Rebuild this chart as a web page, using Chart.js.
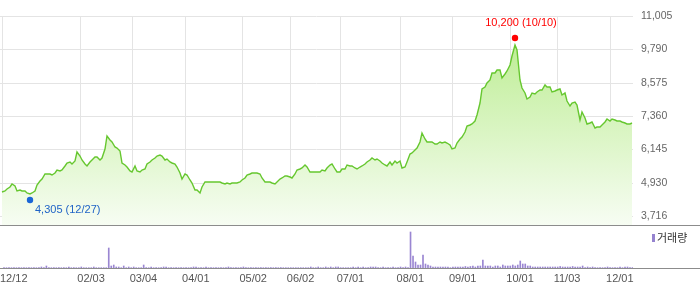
<!DOCTYPE html>
<html>
<head>
<meta charset="utf-8">
<script src="https://cdn.jsdelivr.net/npm/chart.js@4.4.0/dist/chart.umd.min.js"></script>
<style>
  body { margin: 0; background: #fff; }
  #wrap { width: 700px; height: 289px; }
  canvas { display: block; }
</style>
</head>
<body>
<div id="wrap">
  <canvas id="priceChart" width="700" height="226"></canvas>
  <canvas id="volChart" width="700" height="63"></canvas>
</div>
<script>
// daily closing prices, one per trading day from 12/12 to early Dec
let prices = [
  4585, 4640, 4705, 4775, 4865, 4800, 4605, 4650, 4640, 4605,
  4550, 4515, 4540, 4640, 4825, 4990, 5060, 5250, 5260, 5240,
  5210, 5270, 5380, 5340, 5400, 5520, 5660, 5670, 5610, 5730,
  6030, 5900, 5740, 5590, 5530, 5670, 5770, 5880, 5860, 5740,
  5830, 6170, 6640, 6500, 6410, 6220, 6180, 6070, 5660, 5580,
  5510, 5370, 5310, 5530, 5370, 5330, 5380, 5430, 5590, 5670,
  5740, 5810, 5890, 5950, 5910, 5750, 5780, 5690, 5660, 5590,
  5490, 5280, 5060, 5240, 5200, 5030, 4925, 4645, 4660, 4550,
  4765, 4950, 4960, 4950, 4945, 4960, 4935, 4935, 4925, 4880,
  4920, 4885, 4920, 4915, 4925, 4965, 5020, 5100, 5210, 5260,
  5290, 5270, 5280, 5240, 5090, 4965, 4945, 4945, 4915, 4865,
  4950, 5060, 5080, 5170, 5180, 5120, 5100, 5240, 5380, 5425,
  5450, 5570, 5500, 5330, 5310, 5310, 5320, 5330, 5380, 5340,
  5460, 5570, 5590, 5410, 5300, 5310, 5410, 5430, 5570, 5520,
  5520, 5470, 5440, 5480, 5530, 5610, 5680, 5750, 5830, 5750,
  5780, 5720, 5650, 5580, 5550, 5690, 5560, 5710, 5630, 5720,
  5470, 5510, 5680, 5980, 6010, 6100, 6200, 6410, 6750, 6510,
  6400, 6420, 6410, 6355, 6350, 6420, 6380, 6400, 6380, 6310,
  6140, 6190, 6370, 6520, 6610, 6770, 6980, 7040, 7070, 7180,
  7410, 7850, 8350, 8420, 8550, 8670, 8920, 8910, 9040, 9030,
  8740, 8900, 8990, 9200, 9550, 9950, 9780, 8670, 8390, 8190,
  7980, 8060, 8200, 8160, 8230, 8320, 8310, 8480, 8430, 8420,
  8250, 8280, 8300, 8350, 8120, 8200, 7890, 7740, 7820, 7880,
  7760, 7210, 7500, 7285, 7080, 7090, 7140, 6910, 6940, 6970,
  7040, 7130, 7260, 7160, 7250, 7220, 7190, 7180, 7150, 7120,
  7080, 7070, 7090
];

// daily volume (thousand shares)
let volumes = [
  30, 30, 30, 30, 30, 30, 30, 30, 30, 30,
  30, 30, 30, 30, 30, 100, 30, 200, 30, 30,
  30, 30, 30, 30, 30, 30, 100, 30, 30, 30,
  30, 100, 30, 30, 30, 30, 100, 30, 30, 30,
  30, 30, 2000, 200, 300, 100, 100, 30, 200, 30,
  100, 30, 100, 30, 30, 30, 300, 30, 30, 100,
  30, 30, 30, 30, 100, 100, 30, 30, 30, 30,
  30, 30, 30, 30, 30, 30, 100, 100, 30, 30,
  30, 100, 30, 30, 30, 30, 30, 30, 30, 30,
  100, 30, 30, 30, 30, 30, 100, 30, 30, 30,
  30, 30, 30, 30, 30, 30, 30, 30, 30, 30,
  30, 30, 30, 30, 30, 30, 30, 30, 30, 30,
  30, 30, 30, 100, 30, 30, 100, 30, 30, 100,
  30, 100, 30, 100, 100, 30, 30, 30, 30, 30,
  100, 30, 100, 30, 100, 30, 30, 100, 100, 100,
  30, 30, 100, 30, 30, 30, 100, 30, 30, 100,
  30, 100, 30, 3600, 1200, 600, 300, 300, 1300, 400,
  300, 200, 100, 100, 100, 100, 100, 100, 100, 30,
  100, 100, 100, 100, 100, 150, 100, 150, 200, 100,
  200, 200, 800, 200, 200, 200, 100, 200, 200, 100,
  300, 200, 200, 200, 300, 200, 300, 700, 400, 400,
  200, 200, 100, 100, 100, 100, 100, 100, 100, 100,
  100, 100, 100, 150, 100, 100, 100, 100, 150, 100,
  100, 100, 200, 30, 100, 30, 100, 30, 30, 30,
  30, 30, 100, 30, 30, 30, 30, 100, 30, 100,
  100, 30, 30
];

// x tick positions (trading day index) and their labels
let tickIdx = [0, 31, 52, 73, 96, 115, 135, 159, 180, 203, 222, 243];
let tickLabels = ['12/12', '02/03', '03/04', '04/01', '05/02', '06/02', '07/01', '08/01', '09/01', '10/01', '11/03', '12/01'];
let priceTicks = [3716, 4930, 6145, 7360, 8575, 9790, 11005];

let highPoint = { idx: 205, value: 10200, date: '10/10' };
let lowPoint = { idx: 11, value: 4305, date: '12/27' };

let xMin = -0.8, xMax = 252.2;
let fontName = "'Liberation Sans', Arial, sans-serif";
let gridColor = '#e4e4e4';

function fmt(n) {
  return n.toLocaleString('en-US');
}

function xTicks(scale) {
  scale.ticks = tickIdx.map(v => ({ value: v }));
}

// dark line across the whole width under each chart area
const baseLine = {
  id: 'baseLine',
  afterDraw(chart) {
    let ctx = chart.ctx;
    let y = Math.round(chart.chartArea.bottom) + 0.5;
    ctx.save();
    ctx.strokeStyle = '#8c8c8c';
    ctx.lineWidth = 1;
    ctx.beginPath();
    ctx.moveTo(0, y);
    ctx.lineTo(chart.width, y);
    ctx.stroke();
    ctx.restore();
  }
};

// high / low labels next to the dots
const peakLabels = {
  id: 'peakLabels',
  afterDatasetsDraw(chart) {
    let pts = chart.getDatasetMeta(1).data;
    let ctx = chart.ctx;
    ctx.save();
    ctx.font = '11px ' + fontName;
    ctx.textBaseline = 'middle';
    ctx.fillStyle = '#ff0000';
    ctx.textAlign = 'center';
    ctx.fillText(fmt(highPoint.value) + ' (' + highPoint.date + ')', pts[0].x + 6, pts[0].y - 15);
    ctx.fillStyle = '#1f63c6';
    ctx.textAlign = 'left';
    ctx.fillText(fmt(lowPoint.value) + ' (' + lowPoint.date + ')', pts[1].x + 5, pts[1].y + 10);
    ctx.restore();
  }
};

const volLegend = {
  id: 'volLegend',
  afterDraw(chart) {
    let ctx = chart.ctx;
    ctx.save();
    ctx.fillStyle = '#9583cf';
    ctx.fillRect(652, 8, 3, 8);
    ctx.fillStyle = '#333';
    ctx.font = "11px 'Noto Sans CJK KR', sans-serif";
    ctx.textBaseline = 'middle';
    ctx.textAlign = 'left';
    ctx.fillText('거래량', 657, 12);
    ctx.restore();
  }
};

let priceCtx = document.getElementById('priceChart').getContext('2d');

let priceChart = new Chart(priceCtx, {
  type: 'line',
  data: {
    datasets: [{
      order: 2,
      data: prices.map((v, i) => ({ x: i, y: v })),
      borderColor: '#66c72f',
      borderWidth: 1.4,
      pointRadius: 0,
      tension: 0,
      fill: 'start',
      backgroundColor: function (context) {
        let area = context.chart.chartArea;
        if (!area) return 'rgba(190,236,150,0.5)';
        let g = context.chart.ctx.createLinearGradient(0, area.top, 0, area.bottom);
        g.addColorStop(0, '#b6eb88');
        g.addColorStop(1, '#f7fdf3');
        return g;
      }
    }, {
      order: 1,
      data: [
        { x: highPoint.idx, y: highPoint.value },
        { x: lowPoint.idx, y: lowPoint.value }
      ],
      showLine: false,
      pointRadius: 3.2,
      pointBorderWidth: 0,
      pointBackgroundColor: ['#ff0000', '#1a66d6'],
      fill: false
    }]
  },
  options: {
    responsive: false,
    animation: false,
    layout: { autoPadding: false, padding: { top: 16, left: 0, right: 0, bottom: 0 } },
    plugins: {
      legend: { display: false },
      tooltip: { enabled: false }
    },
    scales: {
      x: {
        type: 'linear',
        offset: false,
        alignToPixels: true,
        min: xMin,
        max: xMax,
        afterBuildTicks: xTicks,
        afterFit: (scale) => { scale.height = 1; },
        ticks: { display: false },
        grid: { color: gridColor, drawTicks: false },
        border: { display: false }
      },
      y: {
        position: 'right',
        alignToPixels: true,
        min: 3383,
        max: 11005,
        afterBuildTicks: (scale) => { scale.ticks = priceTicks.map(v => ({ value: v })); },
        afterFit: (scale) => { scale.width = 67; },
        ticks: {
          padding: 0,
          color: '#666',
          font: { family: fontName, size: 10.5, lineHeight: 0.01 },
          callback: (v) => fmt(v)
        },
        grid: { color: gridColor, drawTicks: true, tickLength: 8, tickColor: 'rgba(0,0,0,0)' },
        border: { display: false }
      }
    }
  },
  plugins: [baseLine, peakLabels]
});

let volCtx = document.getElementById('volChart').getContext('2d');

let volChart = new Chart(volCtx, {
  type: 'bar',
  data: {
    datasets: [{
      data: volumes.map((v, i) => ({ x: i, y: v })),
      backgroundColor: '#9a86d2',
      barThickness: 1
    }]
  },
  options: {
    responsive: false,
    animation: false,
    layout: { autoPadding: false, padding: { top: 1, left: 0, right: 67, bottom: 0 } },
    plugins: {
      legend: { display: false },
      tooltip: { enabled: false }
    },
    scales: {
      x: {
        type: 'linear',
        offset: false,
        min: xMin,
        max: xMax,
        afterBuildTicks: xTicks,
        afterFit: (scale) => { scale.height = 21; },
        ticks: {
          align: 'start',
          labelOffset: (ctx) => (ctx.index === 0 ? -1 : -4),
          padding: 4,
          autoSkip: false,
          maxRotation: 0,
          color: '#555',
          font: { family: fontName, size: 11 },
          callback: (v) => tickLabels[tickIdx.indexOf(v)]
        },
        grid: { display: false, offset: false, drawTicks: false },
        border: { display: false }
      },
      y: {
        display: false,
        min: 0,
        max: 4100
      }
    }
  },
  plugins: [baseLine, volLegend]
});
</script>
</body>
</html>
